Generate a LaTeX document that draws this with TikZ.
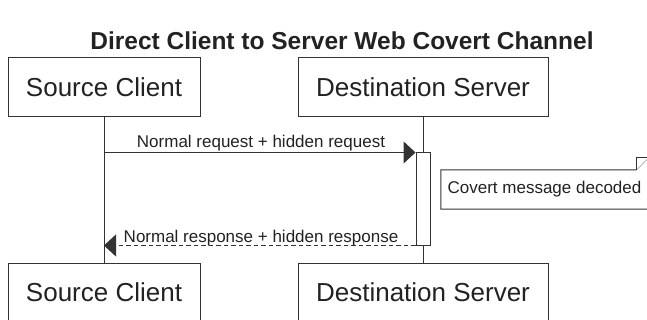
\documentclass[tikz,border=0pt]{standalone}
\usepackage{fontspec}
\setmainfont{Liberation Sans}
\usetikzlibrary{arrows.meta}
\definecolor{linec}{HTML}{333333}
\definecolor{textc}{HTML}{222222}
\tikzset{
  actor/.style={draw=linec, line width=1pt, fill=white, minimum height=59pt, inner sep=0pt, text=textc, font=\fontsize{26}{30}\selectfont},
  lifeline/.style={draw=linec, line width=1pt},
  actbox/.style={draw=linec, line width=1pt, fill=white, minimum width=14pt, minimum height=92pt, inner sep=0pt},
  msg/.style={draw=linec, line width=1pt, -{Triangle[length=12pt,width=22pt]}},
  msgdash/.style={msg, dash pattern=on 4.5pt off 3pt},
  msglabel/.style={text=textc, font=\fontsize{17}{20}\selectfont, inner sep=0pt, anchor=base},
  notebox/.style={draw=none, minimum width=207pt, minimum height=39pt, inner sep=0pt, text=textc, font=\fontsize{17}{20}\selectfont},
  noteline/.style={draw=linec, line width=1pt, fill=white},
}
\begin{document}
\begin{tikzpicture}[x=1pt,y=-1pt]
\useasboundingbox (0,0) rectangle (647,320);
\node[text=textc, font=\bfseries\fontsize{24.5}{28}\selectfont, anchor=base, inner sep=0pt] (title) at (342,50) {Direct Client to Server Web Covert Channel};
\node[actor, minimum width=192pt] (clientTop) at (104,87.5) {Source Client};
\node[actor, minimum width=250pt] (serverTop) at (423,87.5) {Destination Server};
\node[actor, minimum width=192pt] (clientBot) at (104,292.5) {Source Client};
\node[actor, minimum width=250pt] (serverBot) at (423,292.5) {Destination Server};
\draw[lifeline] (clientTop.south) -- (clientBot.north);
\draw[lifeline] (serverTop.south) -- (serverBot.north);
\node[actbox] (act) at (423,199) {};
\draw[msg] (clientTop.south |- act.north west) -- (act.north west);
\node[msglabel] (reqlabel) at (261,148) {Normal request + hidden request};
\draw[msgdash] (act.south west) -- (clientTop.south |- act.south west);
\node[msglabel] (reslabel) at (261,242) {Normal response + hidden response};
\node[notebox] (note) at (544.5,189.5) {};
\draw[noteline] (note.north west) -- ([xshift=-12pt]note.north east) -- ([yshift=12pt]note.north east) -- (note.south east) -- (note.south west) -- cycle;
\draw[noteline] ([xshift=-12pt]note.north east) -- ([xshift=-12pt,yshift=12pt]note.north east) -- ([yshift=12pt]note.north east);
\node[text=textc, font=\fontsize{17}{20}\selectfont, inner sep=0pt] (notetext) at (note.center) {Covert message decoded};
\end{tikzpicture}
\end{document}
